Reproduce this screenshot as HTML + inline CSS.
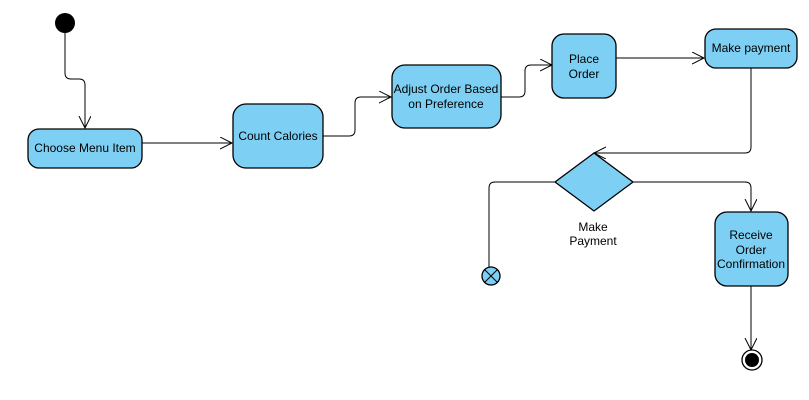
<!DOCTYPE html>
<html><head><style>body{margin:0;background:#fff}svg{display:block}text{font-family:"Liberation Sans",Arial,sans-serif;font-size:12px;fill:#000}</style></head><body>
<svg width="809" height="400" viewBox="0 0 809 400">
<defs><marker id="a" markerWidth="14" markerHeight="14" refX="12" refY="6" orient="auto" markerUnits="userSpaceOnUse"><path d="M0,0 L12,6 L0,12" fill="none" stroke="#000" stroke-width="1"/></marker></defs>
<g fill="none" stroke="#000" stroke-width="1">
<path d="M65,23 V73 Q65,79 71,79 H79 Q85,79 85,85 V128" marker-end="url(#a)"/>
<path d="M142,143 H232" marker-end="url(#a)"/>
<path d="M323,136 H349 Q355,136 355,130 V103 Q355,97 361,97 H391" marker-end="url(#a)"/>
<path d="M501,97 H519 Q525,97 525,91 V71 Q525,65 531,65 H552" marker-end="url(#a)"/>
<path d="M616,58 H704" marker-end="url(#a)"/>
<path d="M751,68 V147 Q751,153 745,153 H594" marker-end="url(#a)"/>
<path d="M555,182 H495 Q489,182 489,188 V268"/>
<path d="M633,182 H745 Q751,182 751,188 V211" marker-end="url(#a)"/>
<path d="M751,286 V350" marker-end="url(#a)"/>
</g>
<circle cx="65" cy="23" r="10" fill="#000"/>
<g fill="#7dd0f4" stroke="#000" stroke-width="1.3">
<rect x="28" y="129" width="114" height="39" rx="11"/>
<rect x="233" y="104" width="90" height="64" rx="13"/>
<rect x="392" y="65" width="109" height="63" rx="13"/>
<rect x="552" y="34" width="64" height="64" rx="12"/>
<rect x="705" y="29" width="92" height="39" rx="11"/>
<rect x="715" y="212" width="73" height="74" rx="12"/>
<path d="M594,153 L633,182 L594,211 L555,182 Z"/>
<circle cx="491" cy="276" r="9"/>
</g>
<path d="M485,270 L497,282 M497,270 L485,282" stroke="#000" stroke-width="1"/>
<circle cx="752" cy="360" r="10" fill="#fff" stroke="#000" stroke-width="1.3"/>
<circle cx="752" cy="360" r="7" fill="#000"/>
<g text-anchor="middle">
<text x="85" y="152">Choose Menu Item</text>
<text x="278" y="140">Count Calories</text>
<text x="446" y="93">Adjust Order Based</text>
<text x="446" y="108">on Preference</text>
<text x="584" y="63">Place</text>
<text x="584" y="78">Order</text>
<text x="751" y="52">Make payment</text>
<text x="751" y="239">Receive</text>
<text x="751" y="254">Order</text>
<text x="751" y="268">Confirmation</text>
<text x="593" y="231">Make</text>
<text x="593" y="245">Payment</text>
</g>
</svg>
</body></html>
